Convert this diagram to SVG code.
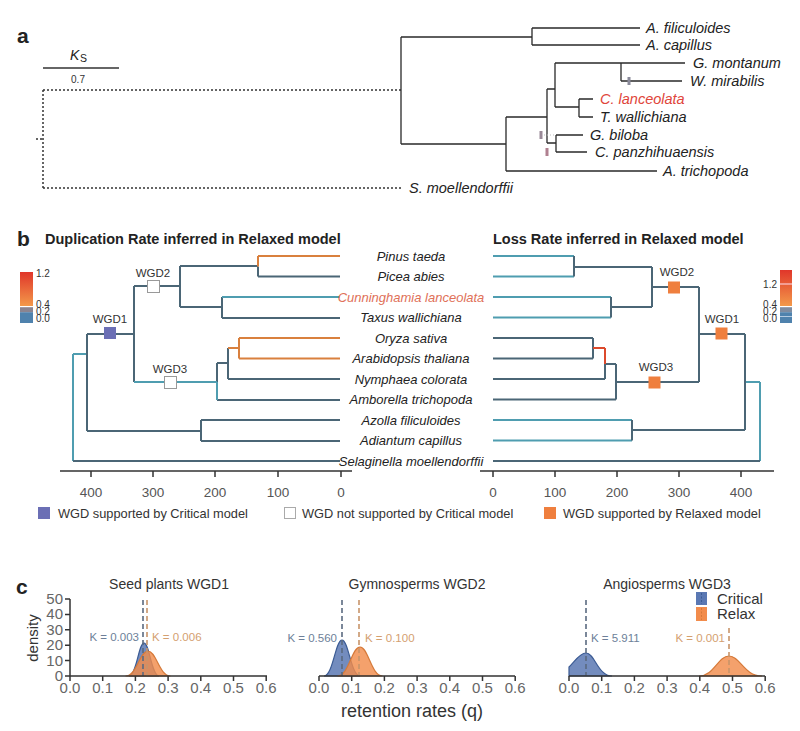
<svg xmlns="http://www.w3.org/2000/svg" width="800" height="731" viewBox="0 0 800 731">
<style>
text{font-family:"Liberation Sans",Arial,sans-serif;fill:#222}
.pl{font-weight:bold;font-size:21px}
.ttl{font-weight:bold;font-size:14.5px}
.ta{font-style:italic;font-size:14.5px}
.tb{font-style:italic;font-size:13px;text-anchor:middle}
.wl{font-size:11.5px;text-anchor:middle;fill:#333}
.cb{font-size:10px;fill:#333}
.ax{font-size:13.5px;fill:#555;text-anchor:middle}
.cx{font-size:15px;fill:#666;text-anchor:middle}
.lg{font-size:12.8px;fill:#333}
.ka{stroke:#2a2a2a;stroke-width:1.3;fill:none}
.dot{stroke:#333;stroke-width:1.5;stroke-dasharray:2 2;fill:none}
.D{stroke:#4b6676;stroke-width:2;fill:none}
.T{stroke:#4f9db0;stroke-width:2;fill:none}
.O{stroke:#d9803e;stroke-width:2;fill:none}
.R{stroke:#dc4a2c;stroke-width:2;fill:none}
.axl{stroke:#333;stroke-width:1.5;fill:none}
.ct{font-size:14px;fill:#333;text-anchor:middle}
.kb{font-size:11.5px;fill:#6d7f99}
.ko{font-size:11.5px;fill:#d4a070}
.bf{fill:#5a78b3;fill-opacity:0.85;stroke:#3b5b94;stroke-width:1.2}
.of{fill:#f28c4c;fill-opacity:0.82;stroke:#d67a3a;stroke-width:1.2}
.db{stroke:#5a6a80;stroke-width:1.6;stroke-dasharray:5 3;fill:none}
.do{stroke:#c8946a;stroke-width:1.6;stroke-dasharray:5 3;fill:none}
</style>
<defs>
<linearGradient id="gr" x1="0" y1="0" x2="0" y2="1">
<stop offset="0" stop-color="#e0362a"/>
<stop offset="1" stop-color="#f3994a"/>
</linearGradient>
</defs>
<rect width="800" height="731" fill="#fff"/>

<!-- Panel a -->
<g id="panel-a">
<text class="pl" x="17" y="43">a</text>
<g id="scale-a">
<text x="70" y="60" style="font-style:italic;font-size:14px">K</text>
<text x="80" y="62" style="font-size:10.5px">S</text>
<line x1="43" y1="68" x2="119" y2="68" stroke="#333" stroke-width="1.5"/>
<text x="78" y="83" style="font-size:10px;text-anchor:middle;fill:#333">0.7</text>
</g>
<g id="connectors-a">
<path class="dot" d="M43 90H401M43 90V188M43 188H403M36 139H43"/>
<path class="ka" d="M401 37V144M401 37H532M532 28V45M532 28H640M532 45H640M401 144H506M506 117V171M506 171H657M506 117H547M547 89V143M547 89H555M555 63V107M555 63H685M621 63V81M621 81H682M555 107H579M579 99V117M579 99H593M579 117H593M547 143H556M556 135V152M556 135H583M556 152H587"/>
<path d="M541 135H556" stroke="#bbb" stroke-width="1" stroke-dasharray="1 2"/>
<rect x="627.5" y="77" width="3" height="8" fill="#8a8a9a"/>
<rect x="539.5" y="131" width="3" height="8" fill="#9a8a98"/>
<rect x="545.5" y="148" width="3" height="8" fill="#b08090"/>
</g>
<g id="a-filiculoides"><text class="ta" x="646" y="33">A. filiculoides</text></g>
<g id="a-capillus"><text class="ta" x="646" y="50">A. capillus</text></g>
<g id="g-montanum"><text class="ta" x="693" y="68">G. montanum</text></g>
<g id="w-mirabilis"><text class="ta" x="690" y="86">W. mirabilis</text></g>
<g id="c-lanceolata"><text class="ta" x="600" y="104" style="fill:#e0453a">C. lanceolata</text></g>
<g id="t-wallichiana"><text class="ta" x="600" y="122">T. wallichiana</text></g>
<g id="g-biloba"><text class="ta" x="590" y="140">G. biloba</text></g>
<g id="c-panzhihuaensis"><text class="ta" x="595" y="157">C. panzhihuaensis</text></g>
<g id="a-trichopoda"><text class="ta" x="663" y="176">A. trichopoda</text></g>
<g id="s-moellendorffii"><text class="ta" x="409" y="193">S. moellendorffii</text></g>
</g>

<!-- Panel b -->
<g id="panel-b">
<text class="pl" x="17" y="246">b</text>
<text class="ttl" x="45" y="244">Duplication Rate inferred in Relaxed model</text>
<text class="ttl" x="493" y="244">Loss Rate inferred in Relaxed model</text>

<g id="colorbar-left">
<rect x="20" y="272" width="13" height="34" fill="url(#gr)"/>
<rect x="20" y="306" width="13" height="1.2" fill="#fff"/>
<rect x="20" y="307.2" width="13" height="5" fill="#8a8490"/>
<rect x="20" y="312.2" width="13" height="10.8" fill="#4f82ad"/>
<text class="cb" x="36" y="277">1.2</text>
<text class="cb" x="36" y="308">0.4</text>
<text class="cb" x="36" y="315">0.2</text>
<text class="cb" x="36" y="322">0.0</text>
</g>
<g id="colorbar-right">
<rect x="780" y="270" width="12" height="36" fill="url(#gr)"/>
<rect x="780" y="283.5" width="12" height="1" fill="#fde"/>
<rect x="780" y="306" width="12" height="1.2" fill="#fff"/>
<rect x="780" y="307.2" width="12" height="5" fill="#7f8ca0"/>
<rect x="780" y="312.2" width="12" height="10.8" fill="#4f82ad"/>
<rect x="780" y="316" width="12" height="0.8" fill="#cde"/>
<text class="cb" x="777" y="288" text-anchor="end">1.2</text>
<text class="cb" x="777" y="308" text-anchor="end">0.4</text>
<text class="cb" x="777" y="315" text-anchor="end">0.2</text>
<text class="cb" x="777" y="322" text-anchor="end">0.0</text>
</g>

<g id="connectors-b">
<!-- left tree -->
<path class="T" d="M73 354V461M73 354H88"/>
<path class="D" d="M73 461H340M87 334V431M87 334H134M87 431H201M201 420V441M201 420H340M201 441H340M134 286V382M134 286H180M180 266V307M180 266H258M258 266.5V276.5M258 276.5H340M180 307H222M222 297V318M222 318H340M217 382V363M217 400H340M217 363H228M228 348V379M228 379H340"/>
<path class="T" d="M222 297H340M134 382H217M217 382V400"/>
<path class="O" d="M258 256V266.5M258 256H340M228 348H239M239 338V358.5M239 338H340M239 358.5H340"/>
<!-- right tree -->
<path class="T" d="M493 256H574M493 276.5H574M493 297H611M493 317.5H611M493 420H632M493 440.5H632M745 382H760M760 382V461"/>
<path class="D" d="M574 256V276.5M574 267H652M652 267V307M611 297V317.5M611 307H652M652 287H699M699 287V382M616 382H699M616 364V399.5M493 399.5H616M605 364H616M605 364V379M493 379H605M593 338V358.5M493 338H593M493 358.5H593M699 334H745M745 334V430M632 420V440.5M632 430H745M493 461H760"/>
<path class="R" d="M593 348H605M605 348V364"/>
</g>

<g id="wgd1-left"><rect x="104" y="327" width="12" height="12" fill="#6b6fb5"/><text class="wl" x="110" y="323">WGD1</text></g>
<g id="wgd2-left"><rect x="147.5" y="280.5" width="12" height="12" fill="#fff" stroke="#999" stroke-width="1"/><text class="wl" x="153" y="277">WGD2</text></g>
<g id="wgd3-left"><rect x="164.5" y="376.5" width="12" height="12" fill="#fff" stroke="#999" stroke-width="1"/><text class="wl" x="170" y="373">WGD3</text></g>
<g id="wgd2-right"><rect x="668" y="281.5" width="12" height="12" fill="#ef7f3e"/><text class="wl" x="677" y="276">WGD2</text></g>
<g id="wgd1-right"><rect x="715.5" y="327.5" width="12" height="12" fill="#ef7f3e"/><text class="wl" x="722" y="323">WGD1</text></g>
<g id="wgd3-right"><rect x="648.5" y="376.5" width="12" height="12" fill="#ef7f3e"/><text class="wl" x="656" y="371">WGD3</text></g>

<g id="pinus-taeda"><text class="tb" x="411" y="260.5">Pinus taeda</text></g>
<g id="picea-abies"><text class="tb" x="411" y="281">Picea abies</text></g>
<g id="cunninghamia-lanceolata"><text class="tb" x="411" y="301.5" style="fill:#e07058">Cunninghamia lanceolata</text></g>
<g id="taxus-wallichiana"><text class="tb" x="411" y="322">Taxus wallichiana</text></g>
<g id="oryza-sativa"><text class="tb" x="411" y="342.5">Oryza sativa</text></g>
<g id="arabidopsis-thaliana"><text class="tb" x="411" y="363">Arabidopsis thaliana</text></g>
<g id="nymphaea-colorata"><text class="tb" x="411" y="383.5">Nymphaea colorata</text></g>
<g id="amborella-trichopoda"><text class="tb" x="411" y="404">Amborella trichopoda</text></g>
<g id="azolla-filiculoides"><text class="tb" x="411" y="424.5">Azolla filiculoides</text></g>
<g id="adiantum-capillus"><text class="tb" x="411" y="445">Adiantum capillus</text></g>
<g id="selaginella-moellendorffii"><text class="tb" x="411" y="465.5">Selaginella moellendorffii</text></g>

<g id="axis-left">
<path class="axl" d="M60 471H352M91 471V477M153 471V477M215 471V477M278 471V477M341 471V477"/>
<text class="ax" x="91" y="497">400</text>
<text class="ax" x="153" y="497">300</text>
<text class="ax" x="215" y="497">200</text>
<text class="ax" x="278" y="497">100</text>
<text class="ax" x="341" y="497">0</text>
</g>
<g id="axis-right">
<path class="axl" d="M480 471H774M493 471V477M555 471V477M617 471V477M679 471V477M741 471V477"/>
<text class="ax" x="493" y="497">0</text>
<text class="ax" x="555" y="497">100</text>
<text class="ax" x="617" y="497">200</text>
<text class="ax" x="679" y="497">300</text>
<text class="ax" x="741" y="497">400</text>
</g>
<g id="legend-b">
<rect x="38" y="507" width="12" height="12" fill="#6b6fb5"/>
<text class="lg" x="58" y="518">WGD supported by Critical model</text>
<rect x="284.5" y="507.5" width="11" height="11" fill="#fff" stroke="#aaa" stroke-width="1"/>
<text class="lg" x="302" y="518">WGD not supported by Critical model</text>
<rect x="544" y="507" width="12" height="12" fill="#ef7f3e"/>
<text class="lg" x="563" y="518">WGD supported by Relaxed model</text>
</g>
</g>

<!-- Panel c -->
<g id="panel-c">
<text class="pl" x="16" y="594">c</text>
<text class="ct" x="169" y="589">Seed plants WGD1</text>
<text class="ct" x="417" y="589">Gymnosperms WGD2</text>
<text class="ct" x="667" y="589">Angiosperms WGD3</text>

<g id="c1">
<path class="bf" d="M129 676C136.5 676 138.5 643 144 643C149.5 643 151.5 676 159 676Z"/>
<path class="of" d="M125.5 676C136.75 676 139.75 651 148 651C156.25 651 159.25 676 170.5 676Z"/>
<path class="db" d="M143 600V676"/>
<path class="do" d="M147 600V676"/>
<text class="kb" x="139" y="641" text-anchor="end">K = 0.003</text>
<text class="ko" x="152" y="641">K = 0.006</text>
<path class="axl" d="M70 599V676H267M65 599H70M65 614.4H70M65 629.8H70M65 645.2H70M65 660.6H70M65 676H70M70 676V681M102.7 676V681M135.4 676V681M168.1 676V681M200.8 676V681M233.5 676V681M266.2 676V681"/>
<text class="cx" x="63" y="604" style="text-anchor:end">50</text>
<text class="cx" x="63" y="619.4" style="text-anchor:end">40</text>
<text class="cx" x="63" y="634.8" style="text-anchor:end">30</text>
<text class="cx" x="63" y="650.2" style="text-anchor:end">20</text>
<text class="cx" x="63" y="665.6" style="text-anchor:end">10</text>
<text class="cx" x="63" y="681" style="text-anchor:end">0</text>
<text x="34" y="638" transform="rotate(-90 34 638)" style="font-size:15px;fill:#333;text-anchor:middle;dominant-baseline:middle">density</text>
<text class="cx" x="70" y="693">0.0</text>
<text class="cx" x="102.7" y="693">0.1</text>
<text class="cx" x="135.4" y="693">0.2</text>
<text class="cx" x="168.1" y="693">0.3</text>
<text class="cx" x="200.8" y="693">0.4</text>
<text class="cx" x="233.5" y="693">0.5</text>
<text class="cx" x="266.2" y="693">0.6</text>
</g>

<g id="c2">
<path class="bf" d="M324 676C333 676 335.4 640 342 640C348.6 640 351 676 360 676Z"/>
<path class="of" d="M337.5 676C348.75 676 351.75 647 360 647C368.25 647 371.25 676 382.5 676Z"/>
<path class="db" d="M342 600V676"/>
<path class="do" d="M359 600V676"/>
<text class="kb" x="337" y="642" text-anchor="end">K = 0.560</text>
<text class="ko" x="365" y="642">K = 0.100</text>
<path class="axl" d="M319 676H515M319 676V681M351.7 676V681M384.4 676V681M417.1 676V681M449.8 676V681M482.5 676V681M515.2 676V681"/>
<text class="cx" x="319" y="693">0.0</text>
<text class="cx" x="351.7" y="693">0.1</text>
<text class="cx" x="384.4" y="693">0.2</text>
<text class="cx" x="417.1" y="693">0.3</text>
<text class="cx" x="449.8" y="693">0.4</text>
<text class="cx" x="482.5" y="693">0.5</text>
<text class="cx" x="515.2" y="693">0.6</text>
<text x="412" y="717" style="font-size:18px;fill:#333;text-anchor:middle">retention rates (q)</text>
</g>

<g id="c3">
<path class="bf" d="M569 676V667C574 663 579 653 586 653C594.8 653 597.8 676 612 676Z"/>
<path class="of" d="M699 676C714 676 718 656 729 656C740 656 744 676 762 676Z"/>
<path class="db" d="M586 600V676"/>
<path class="do" d="M729 628V676"/>
<text class="kb" x="591" y="642">K = 5.911</text>
<text class="ko" x="725" y="642" text-anchor="end">K = 0.001</text>
<path class="axl" d="M569 676H765M569 676V681M601.7 676V681M634.4 676V681M667.1 676V681M699.8 676V681M732.5 676V681M765.2 676V681"/>
<text class="cx" x="569" y="693">0.0</text>
<text class="cx" x="601.7" y="693">0.1</text>
<text class="cx" x="634.4" y="693">0.2</text>
<text class="cx" x="667.1" y="693">0.3</text>
<text class="cx" x="699.8" y="693">0.4</text>
<text class="cx" x="732.5" y="693">0.5</text>
<text class="cx" x="765.2" y="693">0.6</text>
<g id="legend-c">
<rect x="696" y="592" width="11" height="13" fill="#5a78b3"/>
<path d="M701.5 593V604" stroke="#3b5b94" stroke-width="1" stroke-dasharray="2 1.5"/>
<rect x="696" y="607" width="11" height="14" fill="#f28c4c"/>
<path d="M701.5 608V620" stroke="#d67a3a" stroke-width="1" stroke-dasharray="2 1.5"/>
<text x="717" y="604" style="font-size:15px;fill:#333">Critical</text>
<text x="717" y="619" style="font-size:15px;fill:#333">Relax</text>
</g>
</g>
</g>
</svg>
